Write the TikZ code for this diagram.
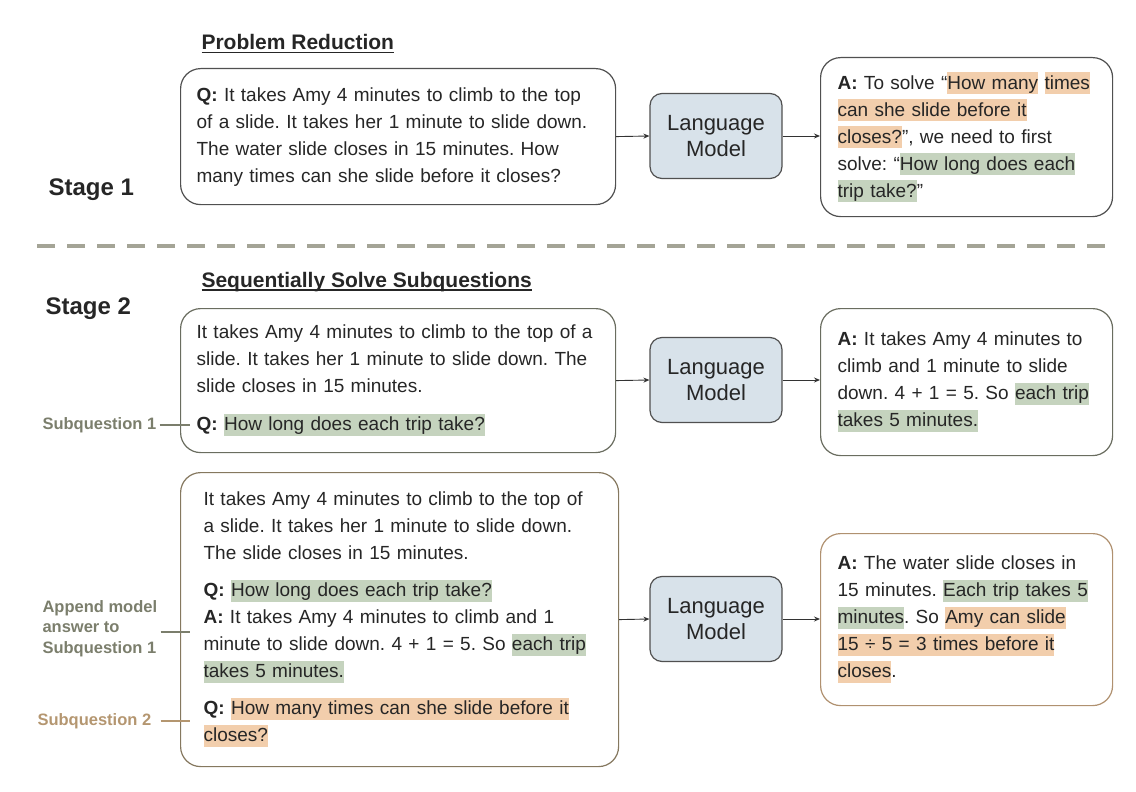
\documentclass[tikz,border=0pt]{standalone}
\usepackage{fontspec}
\setmainfont{Liberation Sans}
\usetikzlibrary{arrows.meta}
\frenchspacing

\definecolor{inkgray}{HTML}{262626}
\definecolor{hlorange}{HTML}{F2CEAC}
\definecolor{hlgreen}{HTML}{C5D3BE}
\definecolor{lmfill}{HTML}{D8E2EA}
\definecolor{boxdark}{HTML}{505050}
\definecolor{boxsage}{HTML}{6A6D60}
\definecolor{boxbrown}{HTML}{85785F}
\definecolor{boxtan}{HTML}{B09170}
\definecolor{sage}{HTML}{7B7E6C}
\definecolor{tanlbl}{HTML}{B49670}
\definecolor{dashgray}{HTML}{A4A496}

% highlighted spans
\newcommand\hlo[1]{{\setlength\fboxsep{0pt}\colorbox{hlorange}{\rule[-5pt]{0pt}{22pt}#1}}}
\newcommand\hlg[1]{{\setlength\fboxsep{0pt}\colorbox{hlgreen}{\rule[-5pt]{0pt}{22pt}#1}}}
% underline through descenders
\newcommand\ulin[1]{\setbox0\hbox{#1}\rlap{\rule[-3.5pt]{\wd0}{1.6pt}}\box0}

\tikzset{
  qbox/.style={draw=#1, line width=1.2pt, rounded corners=20pt, anchor=north west,
    align=left, inner xsep=16pt, inner ysep=0pt, text=inkgray,
    font=\fontsize{19}{27}\selectfont},
  lmbox/.style={draw=boxdark, fill=lmfill, line width=1.2pt, rounded corners=12pt,
    minimum width=132pt, minimum height=85pt, align=center, text=inkgray,
    font=\fontsize{22}{26}\selectfont},
  link/.style={-{Stealth[length=6pt,width=5pt]}, line width=0.9pt, black!80},
  stagelbl/.style={anchor=base west, text=inkgray, font=\fontsize{24}{28}\selectfont\bfseries},
  headlbl/.style={anchor=base west, text=inkgray, font=\fontsize{21}{25}\selectfont\bfseries},
  sidelbl/.style={text=#1, align=left, font=\fontsize{16.5}{20.5}\selectfont\bfseries},
  sideline/.style={draw=#1, line width=1.2pt},
}

\begin{document}
\begin{tikzpicture}[x=1pt,y=-1pt]
  \useasboundingbox (0,0) rectangle (1136,792);

  % stage 1
  \node[headlbl] (redhead) at (198,50) {\ulin{Problem Reduction}};
  \node[stagelbl] (stage1) at (45,195) {Stage 1};
  \node[qbox=boxdark, text width=403pt, minimum height=136pt] (q1) at (180,68)
    {\textbf{Q:} It takes Amy 4 minutes to climb to the top\\
     of a slide. It takes her 1 minute to slide down.\\
     The water slide closes in 15 minutes. How\\
     many times can she slide before it closes?};
  \node[lmbox] (lm1) at (716,136) {Language\\Model};
  \node[qbox=boxdark, inner xsep=17pt, text width=258pt, minimum height=159pt] (a1) at (820,57)
    {\textbf{A:} To solve “\hlo{How many} \hlo{times}\\
     \hlo{can she slide before it}\\
     \hlo{closes?}”, we need to first\\
     solve: “\hlg{How long does each}\\
     \hlg{trip take?}”};
  \draw[link] (q1.east) -- (lm1.west);
  \draw[link] (lm1.east) -- (a1.west |- lm1);

  \draw[dashgray, line width=4pt, dash pattern=on 18pt off 12pt] (37,246) -- (1115,246);

  % stage 2, first subquestion
  \node[stagelbl] (stage2) at (42,314) {Stage 2};
  \node[headlbl] (seqhead) at (198,287) {\ulin{Sequentially Solve Subquestions}};
  \node[qbox=boxsage, text width=403pt, minimum height=144pt] (q2) at (180,308)
    {It takes Amy 4 minutes to climb to the top of a\\
     slide. It takes her 1 minute to slide down. The\\
     slide closes in 15 minutes.\\[11pt]
     \textbf{Q:} \hlg{How long does each trip take?}};
  \node[lmbox] (lm2) at (716,380) {Language\\Model};
  \node[qbox=boxsage, inner xsep=17pt, text width=258pt, minimum height=147pt] (a2) at (820,308)
    {\textbf{A:} It takes Amy 4 minutes to\\
     climb and 1 minute to slide\\
     down. 4 + 1 = 5. So \hlg{each trip}\\
     \hlg{takes 5 minutes.}};
  \draw[link] (q2.east) -- (lm2.west);
  \draw[link] (lm2.east) -- (a2.west |- lm2);
  \node[sidelbl=sage, anchor=west] (sub1) at (39,425) {Subquestion 1};
  \coordinate (sub1end) at (190,425);
  \draw[sideline=sage] (sub1.east) -- (sub1end);

  % stage 2, second subquestion
  \node[qbox=boxbrown, inner xsep=23pt, text width=392pt, minimum height=294pt] (q3) at (180,472)
    {It takes Amy 4 minutes to climb to the top of\\
     a slide. It takes her 1 minute to slide down.\\
     The slide closes in 15 minutes.\\[10pt]
     \textbf{Q:} \hlg{How long does each trip take?}\\
     \textbf{A:} It takes Amy 4 minutes to climb and 1\\
     minute to slide down. 4 + 1 = 5. So \hlg{each trip}\\
     \hlg{takes 5 minutes.}\\[10pt]
     \textbf{Q:} \hlo{How many times can she slide before it}\\
     \hlo{closes?}};
  \node[lmbox] (lm3) at (716,619) {Language\\Model};
  \node[qbox=boxtan, inner xsep=17pt, text width=258pt, minimum height=172pt] (a3) at (820,533)
    {\textbf{A:} The water slide closes in\\
     15 minutes. \hlg{Each trip takes 5}\\
     \hlg{minutes}. So \hlo{Amy can slide}\\
     \hlo{15 ÷ 5 = 3 times before it}\\
     \hlo{closes}.};
  \draw[link] (q3.east) -- (lm3.west);
  \draw[link] (lm3.east) -- (a3.west |- lm3);
  \node[sidelbl=sage, anchor=north west] (append) at (39,597) {Append model\\answer to\\Subquestion 1};
  \coordinate (appendend) at (190,632);
  \draw[sideline=sage] (append.east |- appendend) -- (appendend);
  \node[sidelbl=tanlbl, anchor=west] (sub2) at (34,721) {Subquestion 2};
  \coordinate (sub2end) at (190,721);
  \draw[sideline=tanlbl] ([xshift=6pt]sub2.east) -- (sub2end);
\end{tikzpicture}
\end{document}
